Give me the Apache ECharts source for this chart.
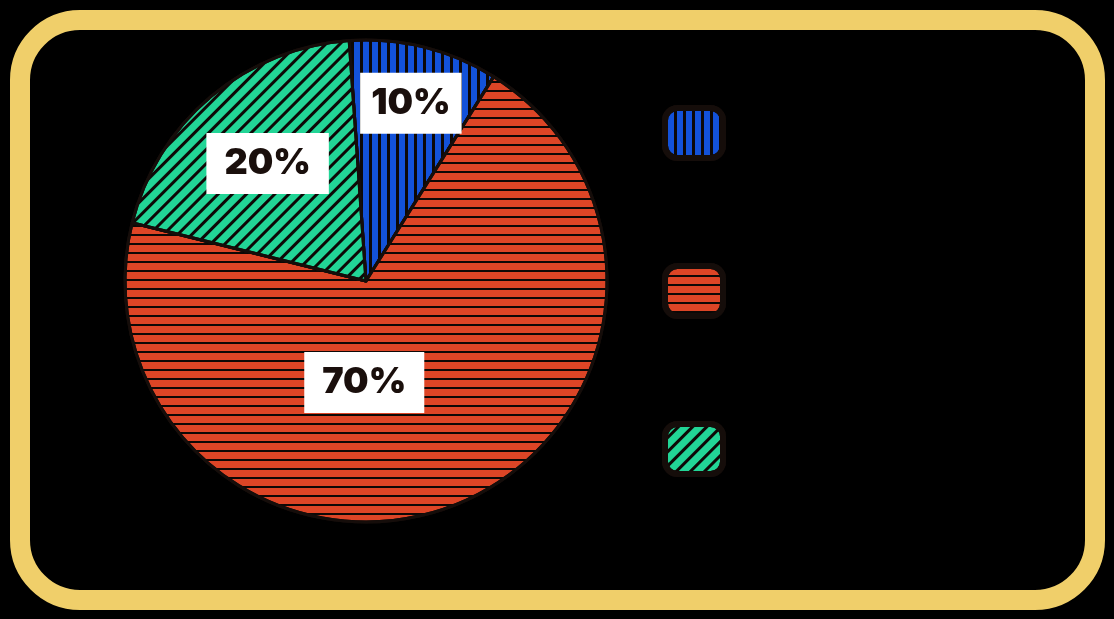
<!DOCTYPE html>
<html>
<head>
<meta charset="utf-8">
<script src="https://cdn.jsdelivr.net/npm/echarts@6/dist/echarts.min.js"></script>
<style>
html,body{margin:0;padding:0;background:#000;}
#chart{width:1114px;height:619px;}
</style>
</head>
<body>
<div id="chart"></div>
<script>
// ---- data ----
var categories = ['Category A', 'Category B', 'Category C'];
var values = [10, 70, 20];
var labels = ['10%', '70%', '20%'];

// ---- styles ----
var colors = ['#1352d9', '#dd4526', '#22d596'];
var decals = [
  {symbol: 'rect', symbolSize: 1, color: '#0d0806', dashArrayX: [2.5, 5.5], dashArrayY: [1, 0]},
  {symbol: 'rect', symbolSize: 1, color: '#0d0806', dashArrayX: [1, 0], dashArrayY: [2, 6.5]},
  {symbol: 'rect', symbolSize: 1, color: '#0d0806', dashArrayX: [1, 0], dashArrayY: [3, 7], rotation: -Math.PI / 4}
];
var labelOffsets = [[15, -58], [-48, -13], [-19, -23]];
var labelPaddings = [[12, 11, 12, 11], [12, 18, 12, 18], [12, 18, 12, 18]];

var chart = echarts.init(document.getElementById('chart'), null, {renderer: 'canvas'});
var data = categories.map(function (c, i) {
  return {
    name: c,
    value: values[i],
    itemStyle: {color: colors[i], decal: decals[i]},
    label: {offset: labelOffsets[i], formatter: labels[i], padding: labelPaddings[i]}
  };
});

chart.setOption({
  backgroundColor: '#000000',
  animation: false,
  graphic: [{
    type: 'rect',
    shape: {x: 20, y: 20, width: 1075, height: 580, r: 60},
    style: {fill: 'none', stroke: '#f0cf6a', lineWidth: 20},
    z: -1
  }],
  legend: {
    orient: 'vertical',
    left: 657,
    top: 100,
    itemWidth: 58,
    itemHeight: 50,
    itemGap: 102,
    icon: 'roundRect',
    itemStyle: {borderColor: '#150d0a', borderWidth: 6},
    textStyle: {color: '#000000', fontSize: 16, fontFamily: 'Inter'},
    data: categories
  },
  series: [{
    type: 'pie',
    center: [366, 281],
    radius: 241,
    startAngle: 94,
    clockwise: true,
    avoidLabelOverlap: false,
    itemStyle: {borderColor: '#150d0a', borderWidth: 3},
    label: {
      show: true,
      position: 'inside',
      backgroundColor: '#ffffff',
      color: '#1a0f0c',
      fontFamily: 'Inter',
      fontWeight: 900,
      fontSize: 36,
      lineHeight: 37
    },
    labelLine: {show: false},
    emphasis: {disabled: true},
    data: data
  }]
});
</script>
</body>
</html>
